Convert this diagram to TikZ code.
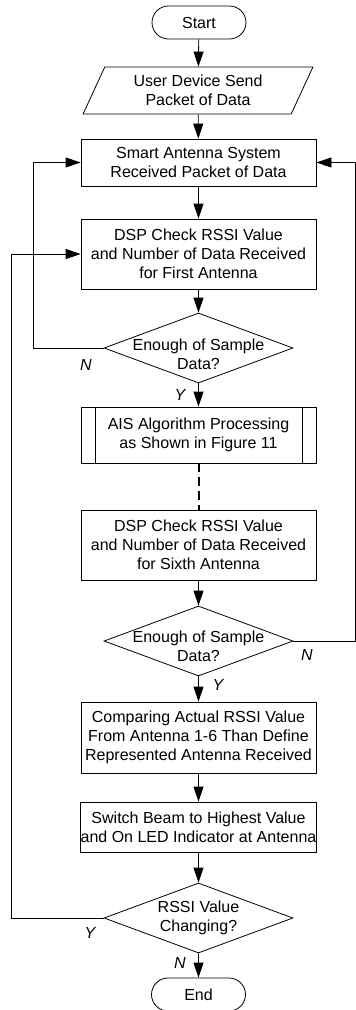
\documentclass[tikz,border=0pt]{standalone}
\usepackage{fontspec}
\setmainfont{Liberation Sans}
\usetikzlibrary{shapes.geometric,shapes.misc,arrows.meta}

\begin{document}
\begin{tikzpicture}[x=1pt,y=-1pt,
    font=\fontsize{16}{19}\selectfont,
    line width=0.8pt,
    flow/.style={-{Triangle[length=15pt,width=10pt]}},
    term/.style={draw, rounded rectangle, minimum width=94pt, minimum height=33pt, inner sep=0pt},
    proc/.style={draw, rectangle, align=center, minimum width=235pt, inner sep=0pt},
    io/.style={draw, trapezium, trapezium left angle=64, trapezium right angle=116,
        trapezium stretches=true, minimum width=230pt, minimum height=47pt, align=center, inner sep=0pt},
    decision/.style={draw, diamond, aspect=2.7, align=center, inner xsep=-30pt, inner ysep=-8pt,
        minimum width=189pt, minimum height=70pt},
    yn/.style={font=\fontsize{16}{19}\selectfont\itshape}]

    % Fix the page size
    \useasboundingbox (0,0) rectangle (356,1010);

    % Main column of steps
    \node[term] (start) at (199,22.5) {Start};
    \node[io] (send) at (198,90.5) {User Device Send\\Packet of Data};
    \node[proc, minimum height=47pt] (rcv) at (198.5,162.5) {Smart Antenna System\\Received Packet of Data};
    \node[proc, minimum height=70pt] (dsp1) at (198.5,254) {DSP Check RSSI Value\\and Number of Data Received\\for First Antenna};
    \node[decision] (enough1) at (198.5,348)
        {\raisebox{-8pt}[\height][\depth]{\begin{tabular}{@{}c@{}}Enough of Sample\\Data?\end{tabular}}};
    \node[proc, minimum height=56pt] (ais) at (198.5,435) {AIS Algorithm Processing\\as Shown in Figure 11};
    \node[proc, minimum height=70pt] (dsp6) at (198.5,545) {DSP Check RSSI Value\\and Number of Data Received\\for Sixth Antenna};
    \node[decision] (enough6) at (198.5,641)
        {\raisebox{-7pt}[\height][\depth]{\begin{tabular}{@{}c@{}}Enough of Sample\\Data?\end{tabular}}};
    \node[proc, minimum height=71pt] (cmp) at (198.5,737.5) {Comparing Actual RSSI Value\\From Antenna 1-6 Than Define\\Represented Antenna Received};
    \node[proc, minimum height=50pt] (beam) at (198.5,827) {Switch Beam to Highest Value\\and On LED Indicator at Antenna};
    \node[decision] (change) at (198.5,918) {RSSI Value\\Changing?};
    \node[term] (end) at (198.5,994.5) {End};

    % Side bars of the predefined process
    \draw ([xshift=15pt]ais.north west) -- ([xshift=15pt]ais.south west);
    \draw ([xshift=-14pt]ais.north east) -- ([xshift=-14pt]ais.south east);

    % Straight arrows down the column
    \draw[flow] (start) -- (send);
    \draw[flow] (send) -- (rcv);
    \draw[flow] (rcv) -- (dsp1);
    \draw[flow] (dsp1) -- (enough1);
    \draw[flow] (enough1) -- (ais);
    \draw[line width=2pt, dash pattern=on 9pt off 5pt] (ais) -- (dsp6);
    \draw[flow] (dsp6) -- (enough6);
    \draw[flow] (enough6) -- (cmp);
    \draw[flow] (cmp) -- (beam);
    \draw[flow] (beam) -- (change);
    \draw[flow] (change) -- (end);

    % Loop corners
    \coordinate (loopA) at (33,348);
    \coordinate (loopB) at (11,918);
    \coordinate (loopC) at (355,641);

    % Loops back
    \draw[flow] (enough1.west) -- (loopA) |- (rcv.west);
    \draw[flow] (change.west) -- (loopB) |- (dsp1.west);
    \draw[flow] (enough6.east) -- (loopC) |- (rcv.east);

    % Labels
    \node[yn] (n1) at (86,365) {N};
    \node[yn] (y1) at (180,395) {Y};
    \node[yn] (n2) at (307,655) {N};
    \node[yn] (y2) at (218,685) {Y};
    \node[yn] (y3) at (90,933) {Y};
    \node[yn] (n3) at (180,963) {N};

\end{tikzpicture}
\end{document}
